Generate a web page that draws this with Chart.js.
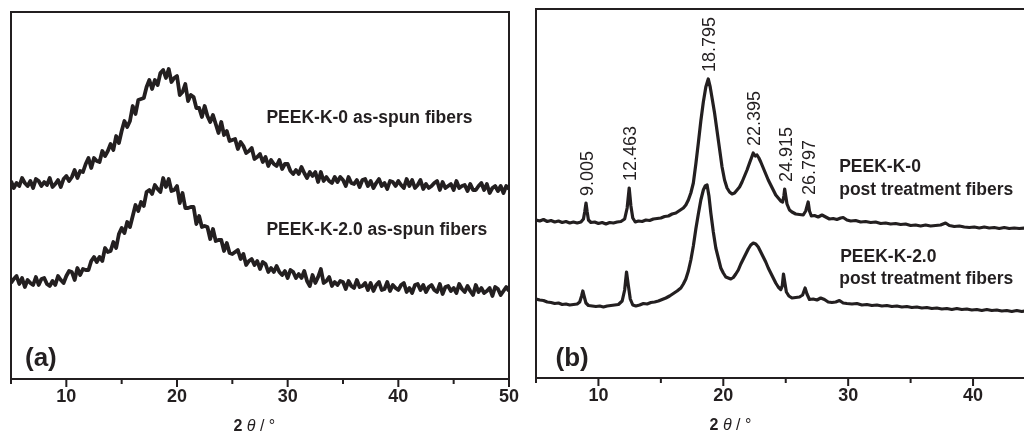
<!DOCTYPE html>
<html>
<head>
<meta charset="utf-8">
<title>XRD patterns of PEEK-K fibers</title>
<script src="https://cdn.jsdelivr.net/npm/chart.js@4.4.1/dist/chart.umd.min.js"></script>
<style>
  html, body { margin: 0; padding: 0; background: #fff; width: 1024px; height: 439px; overflow: hidden; }
  .panel { position: absolute; top: 0; height: 439px; }
  #wrapA { left: 0; width: 520px; }
  #wrapB { left: 520px; width: 504px; }
  canvas { display: block; }
</style>
</head>
<body>
<div class="panel" id="wrapA"><canvas id="chartA" width="520" height="439"></canvas></div>
<div class="panel" id="wrapB"><canvas id="chartB" width="504" height="439"></canvas></div>
<script>
// ---- (a) as-spun fibers: intensity (a.u.) on a 0.25° step scan, 5–50° ----
const scanStartA = 5;
const scanStepA = 0.25;

const asSpunK0 = [
  198, 191, 196, 193,  201, 196, 193, 198,  191, 200, 198, 193,  197, 194, 201, 192,
  195, 199, 192, 200,  203, 198, 202, 209,  201, 208, 207, 215,  221, 211, 221, 218,
  217, 228, 223, 228,  235, 229, 243, 236,  248, 258, 252, 258,  273, 265, 279, 280,
  281, 292, 299, 290,  299, 294, 306, 309,  301, 310, 297, 301,  303, 284, 287, 295,
  278, 284, 282, 271,  271, 262, 273, 263,  257, 264, 255, 246,  257, 244, 248, 238,
  239, 240, 230, 237,  233, 226, 228, 231,  220, 222, 225, 217,  222, 213, 219, 215,
  213, 219, 210, 215,  215, 208, 205, 209,  205, 212, 206, 201,  207, 203, 207, 197,
  207, 198, 202, 198,  196, 202, 197, 202,  199, 193, 202, 196,  195, 199, 192, 199,
  200, 193, 198, 191,  196, 200, 193, 196,  190, 198, 197, 193,  198, 194, 191, 200,
  193, 199, 191, 194,  199, 190, 195, 191,  193, 196, 198, 189,  197, 191, 193, 195,
  189, 198, 191, 193,  194, 188, 195, 189,  189, 193, 196, 189,  195, 186, 191, 193,
  188, 193, 186, 193,  190
];

const asSpunK2 = [
   96, 100, 103,  95,  101,  92,  99,  96,   94, 102,  94, 100,  101,  95,  93,  98,
   94, 103,  99,  96,  103, 108, 107,  99,  111, 104, 110, 109,  109, 118, 122, 117,
  122, 118, 131, 127,  128, 137, 131, 145,  151, 146, 157, 152,  163, 174, 168, 177,
  173, 187, 189, 185,  194, 190, 187, 201,  192, 200, 188, 189,  193, 176, 186, 171,
  171, 172, 172, 155,  163, 152, 153, 152,  140, 150, 138, 139,  139, 128, 136, 126,
  125, 127, 129, 120,  125, 114, 118, 120,  114, 118, 110, 117,  115, 107, 111, 107,
  113, 107, 104, 108,  101, 109, 107, 101,  105, 101, 108,  98,   93, 104,  96, 102,
  110,  96,  98, 102,   93,  97,  94,  98,   97,  90,  98,  93,   91,  99,  92,  93,
   96,  89,  96,  88,   94,  97,  89,  90,   97,  88,  94,  91,   89,  94,  96,  87,
   91,  86,  94,  95,   89,  94,  87,  92,   94,  89,  87,  95,   85,  92,  93,  88,
   91,  86,  95,  90,   87,  93,  88,  84,   94,  87,  91,  86,   88,  91,  83,  92,
   90,  84,  88,  92,   88
];

// ---- (b) post treatment fibers: 2θ (°) and intensity (a.u.) ----
const thetaPostK0 = [
  5.0, 5.3, 5.6, 5.9, 6.2, 6.5, 6.8, 7.1, 7.4, 7.7, 8.0, 8.3, 8.6, 8.8, 8.9, 9.005, 9.1, 9.2, 9.4, 9.7,
  10.0, 10.3, 10.6, 10.9, 11.2, 11.5, 11.8, 12.1, 12.3, 12.463, 12.6, 12.75, 12.95, 13.2, 13.5, 13.8,
  14.1, 14.4, 14.7, 15.0, 15.3, 15.6, 15.9, 16.2, 16.5, 16.8, 17.0, 17.2, 17.4, 17.6, 17.8, 18.0,
  18.2, 18.4, 18.6, 18.795, 18.95, 19.1, 19.3, 19.5, 19.7, 19.9, 20.1, 20.3, 20.5, 20.7, 20.9, 21.1,
  21.3, 21.5, 21.7, 21.9, 22.1, 22.25, 22.395, 22.55, 22.7, 22.85, 23.0, 23.2, 23.4, 23.6, 23.8, 24.0,
  24.2, 24.4, 24.6, 24.75, 24.85, 24.915, 25.0, 25.1, 25.3, 25.5, 25.8, 26.1, 26.4, 26.6, 26.797, 26.9,
  27.05, 27.3, 27.6, 27.9, 28.2, 28.5, 28.8, 29.1, 29.4, 29.6, 29.9, 30.2, 30.6, 31.0, 31.4, 31.8,
  32.2, 32.6, 33.0, 33.4, 33.8, 34.2, 34.6, 35.0, 35.4, 35.8, 36.2, 36.6, 37.0, 37.4, 37.8, 38.1,
  38.5, 38.9, 39.3, 39.7, 40.1, 40.5, 40.9, 41.3, 41.7, 42.1, 42.5, 42.9, 43.3, 43.7, 44.1
];
const intPostK0 = [
  158, 157, 158.5, 156.5, 157.5, 156, 157, 155.5, 156.5, 155, 156, 155, 156, 159, 166, 175, 166, 158, 155.5, 156,
  154.5, 155.5, 154, 155.5, 155, 156, 156.5, 159, 170, 190, 172, 160, 156, 157, 156.5, 158,
  157.5, 159, 159.5, 160, 161.5, 162, 164, 165, 167.5, 170, 173, 178, 185, 195, 214, 235,
  257, 276, 291, 299, 291, 280, 265, 247, 229, 211, 198, 190, 186, 184, 185, 188,
  191, 196, 202, 208, 215, 220, 225, 222, 223, 220, 216, 210, 204, 198, 193, 188,
  183, 180, 177, 176, 182, 189, 182, 174, 168, 166, 164, 163.5, 163, 167, 176, 167,
  162, 162.5, 161, 163, 161, 159, 159.5, 158.5, 160, 160.5, 158, 157, 157.5, 156, 156.5, 155.5,
  156, 154.5, 155, 154, 154.5, 153.5, 154, 152.5, 153, 152, 153, 152, 152.5, 153, 155, 152.5,
  151.5, 152, 151, 150.5, 151, 150, 151, 150, 150.5, 149.5, 150.5, 149.5, 150, 149.5, 150
];

const thetaPostK2 = [
  5.0, 5.3, 5.6, 5.9, 6.2, 6.5, 6.8, 7.1, 7.4, 7.7, 8.0, 8.3, 8.5, 8.65, 8.75, 8.85, 9.0, 9.2, 9.5, 9.8,
  10.1, 10.4, 10.7, 11.0, 11.3, 11.6, 11.9, 12.1, 12.25, 12.4, 12.55, 12.75, 13.0, 13.3, 13.6, 13.9,
  14.2, 14.5, 14.8, 15.1, 15.4, 15.7, 16.0, 16.3, 16.6, 16.8, 17.0, 17.2, 17.4, 17.6, 17.8, 18.0,
  18.2, 18.4, 18.55, 18.7, 18.85, 19.0, 19.2, 19.4, 19.6, 19.8, 20.0, 20.2, 20.4, 20.6, 20.8, 21.0,
  21.2, 21.4, 21.6, 21.8, 22.0, 22.2, 22.4, 22.6, 22.8, 23.0, 23.2, 23.4, 23.6, 23.8, 24.0, 24.2,
  24.4, 24.6, 24.72, 24.82, 24.92, 25.05, 25.25, 25.5, 25.8, 26.1, 26.35, 26.55, 26.7, 26.9, 27.2, 27.5,
  27.8, 28.1, 28.4, 28.7, 29.0, 29.3, 29.6, 29.9, 30.3, 30.7, 31.1, 31.5, 31.9, 32.3, 32.7, 33.1,
  33.5, 33.9, 34.3, 34.7, 35.1, 35.5, 35.9, 36.3, 36.7, 37.1, 37.5, 37.9, 38.3, 38.7, 39.1, 39.5,
  39.9, 40.3, 40.7, 41.1, 41.5, 41.9, 42.3, 42.7, 43.1, 43.5, 43.9, 44.1
];
const intPostK2 = [
  79, 78, 77.5, 76, 75.5, 74.5, 75, 73.5, 74, 73, 73.5, 74, 76, 82, 87, 82, 75, 72.5, 72, 71.5,
  72, 71, 72, 72.5, 73, 73.5, 77, 88, 106, 92, 79, 73, 72, 73, 74.5, 74,
  75.5, 76, 77, 78.5, 80, 82, 84.5, 87, 90, 94, 99, 107, 118, 132, 149, 164,
  178, 188, 192, 193, 182, 165, 146, 130, 120, 110, 105, 101, 100, 99, 100.5, 104,
  108, 114, 119, 124, 129, 133, 135, 134, 131, 126, 121, 116, 110, 105, 100, 95,
  91, 88.5, 92, 104, 96, 86, 82, 80, 80.5, 81, 83, 90, 84, 78.5, 79, 78,
  80, 78.5, 76, 75.5, 76, 77.5, 75, 74.5, 74, 74.5, 73, 73.5, 72.5, 73, 72, 72.5,
  71.5, 72, 71, 71.5, 70.5, 71, 70, 70.5, 69.5, 70, 69, 69.5, 68.5, 69.5, 68.5, 69,
  68, 68.5, 67.5, 68.5, 67.5, 68, 67, 67.5, 66.5, 67.5, 66.5, 67
];

// Peak positions (2θ, °) marked on the PEEK-K-0 post treatment pattern
const peakLabels = ['9.005', '12.463', '18.795', '22.395', '24.915', '26.797'];

// Axis ticks: marks every 5°, numbers every 10°
const ticksA = [5, 10, 15, 20, 25, 30, 35, 40, 45, 50];
const ticksB = [5, 10, 15, 20, 25, 30, 35, 40];
const labelStep = 10;

const FONT = "'Liberation Sans', Arial, Helvetica, sans-serif";
const INK = '#231f20';

const thetaA = asSpunK0.map((_, i) => scanStartA + i * scanStepA);
const toPoints = (xs, ys) => ys.map((v, i) => ({ x: xs[i], y: v }));

// Frame, tick marks, annotations, axis title and peak labels
const xrdDecor = {
  id: 'xrdDecor',
  afterDraw(chart, args, o) {
    const { ctx, chartArea: a, scales: { x, y } } = chart;
    ctx.save();
    ctx.strokeStyle = INK;
    ctx.lineWidth = 2;
    ctx.beginPath();
    ctx.moveTo(a.left, a.bottom + 1);
    ctx.lineTo(a.left, a.top);
    ctx.lineTo(a.right + (o.closeRight ? 0 : 2), a.top);
    if (o.closeRight) ctx.lineTo(a.right, a.bottom + 1);
    ctx.stroke();

    ctx.beginPath();
    for (const t of x.ticks) {
      const px = x.getPixelForValue(t.value);
      const len = t.value % labelStep === 0 ? 8 : 5;
      ctx.moveTo(px, a.bottom);
      ctx.lineTo(px, a.bottom + len);
    }
    ctx.stroke();

    ctx.fillStyle = INK;
    ctx.textAlign = 'left';
    ctx.textBaseline = 'alphabetic';
    ctx.font = `bold 17.5px ${FONT}`;
    for (const n of o.notes) {
      ctx.fillText(n.text, x.getPixelForValue(n.x), y.getPixelForValue(n.y));
    }

    ctx.font = `bold 26px ${FONT}`;
    ctx.fillText(o.tag, a.left + o.tagDx, a.bottom - o.tagDy);

    let tx = x.getPixelForValue(o.titleAt);
    const ty = a.bottom + 52;
    for (const [txt, style] of [['2', 'bold'], [' ', 'normal'], ['\u03b8', 'italic'], [' / \u00b0', 'normal']]) {
      ctx.font = `${style} 16px ${FONT}`;
      ctx.fillText(txt, tx, ty);
      tx += ctx.measureText(txt).width;
    }

    if (o.peaks) {
      ctx.font = `18px ${FONT}`;
      ctx.textBaseline = 'middle';
      for (const lab of peakLabels) {
        const v = parseFloat(lab);
        const idx = thetaPostK0.indexOf(v);
        const px = x.getPixelForValue(v) + 2;
        const py = y.getPixelForValue(intPostK0[idx]) - 7;
        ctx.save();
        ctx.translate(px, py);
        ctx.rotate(-Math.PI / 2);
        ctx.fillText(lab, 0, 0);
        ctx.restore();
      }
    }
    ctx.restore();
  }
};

function xAxis(max, height, tickValues) {
  return {
    type: 'linear',
    position: 'bottom',
    min: 5,
    max: max,
    afterBuildTicks: s => { s.ticks = tickValues.map(v => ({ value: v })); },
    afterFit: s => { s.height = height; s.paddingLeft = 0; s.paddingRight = 0; },
    ticks: {
      autoSkip: false,
      maxRotation: 0,
      padding: 7,
      color: INK,
      font: { family: FONT, size: 18, weight: 'bold' },
      callback: v => (v % labelStep === 0 ? String(v) : '')
    },
    grid: { display: true, drawOnChartArea: false, drawTicks: false },
    border: { display: true, color: INK, width: 2 }
  };
}

function lineSet(label, points, width) {
  return {
    label,
    data: points,
    borderColor: INK,
    borderWidth: width,
    pointRadius: 0,
    tension: 0,
    fill: false,
    borderJoinStyle: 'round'
  };
}

const common = {
  responsive: false,
  animation: false,
  devicePixelRatio: 1,
  events: []
};

new Chart(document.getElementById('chartA'), {
  type: 'line',
  data: {
    datasets: [
      lineSet('PEEK-K-0 as-spun fibers', toPoints(thetaA, asSpunK0), 3.8),
      lineSet('PEEK-K-2.0 as-spun fibers', toPoints(thetaA, asSpunK2), 3.8)
    ]
  },
  options: {
    ...common,
    layout: { padding: { left: 11, top: 12, right: 11, bottom: 0 } },
    scales: {
      x: xAxis(50, 60, ticksA),
      y: { display: false, min: 0, max: 367 }
    },
    plugins: {
      legend: { display: false },
      tooltip: { enabled: false },
      xrdDecor: {
        closeRight: true,
        tag: '(a)', tagDx: 14, tagDy: 13,
        titleAt: 25.1,
        peaks: false,
        notes: [
          { text: 'PEEK-K-0 as-spun fibers', x: 28.08, y: 256.3 },
          { text: 'PEEK-K-2.0 as-spun fibers', x: 28.08, y: 144 }
        ]
      }
    }
  },
  plugins: [xrdDecor]
});

new Chart(document.getElementById('chartB'), {
  type: 'line',
  data: {
    datasets: [
      lineSet('PEEK-K-0 post treatment fibers', toPoints(thetaPostK0, intPostK0), 3.2),
      lineSet('PEEK-K-2.0 post treatment fibers', toPoints(thetaPostK2, intPostK2), 3.2)
    ]
  },
  options: {
    ...common,
    layout: { padding: { left: 16, top: 9, right: 0, bottom: 0 } },
    scales: {
      x: xAxis(44.08, 61, ticksB),
      y: { display: false, min: 0, max: 369 }
    },
    plugins: {
      legend: { display: false },
      tooltip: { enabled: false },
      xrdDecor: {
        closeRight: false,
        tag: '(b)', tagDx: 19.5, tagDy: 12,
        titleAt: 18.9,
        peaks: true,
        notes: [
          { text: 'PEEK-K-0', x: 29.28, y: 206.3 },
          { text: 'post treatment fibers', x: 29.28, y: 183 },
          { text: 'PEEK-K-2.0', x: 29.36, y: 116.3 },
          { text: 'post treatment fibers', x: 29.28, y: 94 }
        ]
      }
    }
  },
  plugins: [xrdDecor]
});
</script>
</body>
</html>
